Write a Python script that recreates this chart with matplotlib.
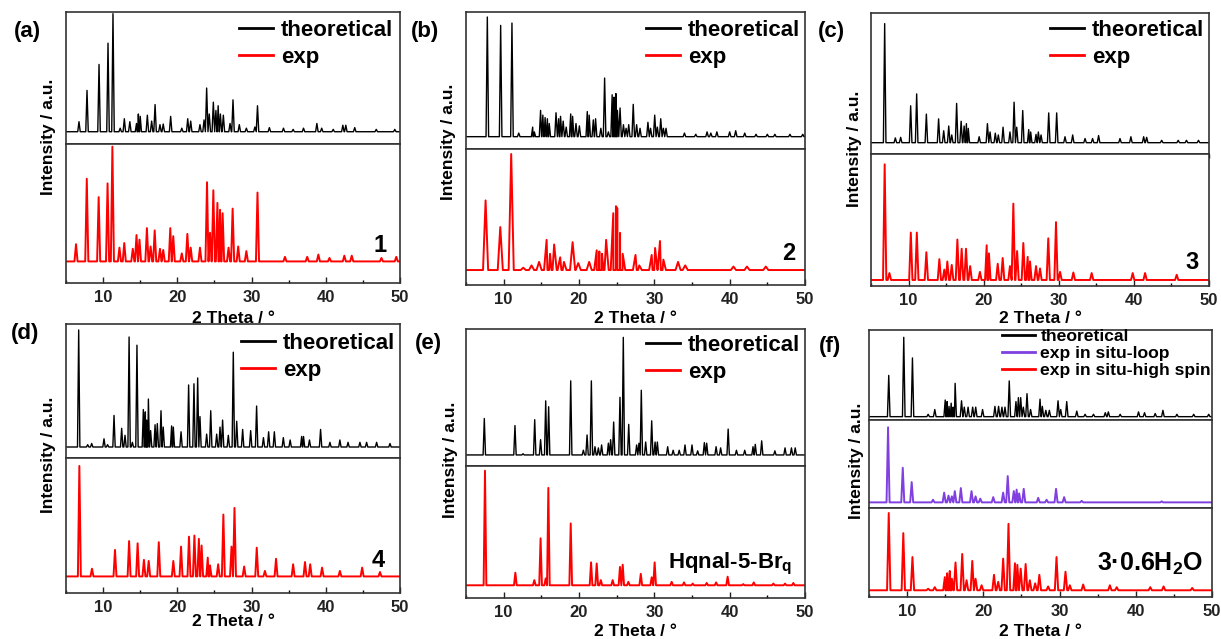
import numpy as np
import matplotlib
matplotlib.use('agg')
import matplotlib.pyplot as plt
from matplotlib.lines import Line2D
from matplotlib.ticker import MultipleLocator

plt.rcParams['font.family'] = ['Liberation Sans', 'DejaVu Sans']
plt.rcParams['font.weight'] = 'bold'
plt.rcParams['mathtext.fontset'] = 'custom'
plt.rcParams['mathtext.rm'] = 'Liberation Sans:bold'
plt.rcParams['mathtext.it'] = 'Liberation Sans:bold'
plt.rcParams['mathtext.bf'] = 'Liberation Sans:bold'

# peak positions (2 theta) and relative heights
a_theo_pos = [6.75, 7.83, 9.45, 10.66, 11.33, 12.3, 12.86, 13.6, 14.5, 14.75, 15.0, 15.96, 16.54, 17.0, 17.66,
              18.1, 19.1, 20.6, 21.4, 21.8, 23.05, 23.6, 23.95, 24.3, 24.85, 25.2, 25.5, 25.8, 26.2, 27.1,
              27.5, 28.35, 29.3, 30.45, 30.8, 32.4, 34.3, 35.6, 37.0, 38.8, 39.45, 41.0, 42.3, 42.7, 43.9,
              46.8, 49.3]
a_theo_int = [0.085, 0.35, 0.57, 0.75, 1.0, 0.03, 0.11, 0.085, 0.07, 0.15, 0.13, 0.14, 0.09, 0.23, 0.06,
              0.065, 0.13, 0.03, 0.11, 0.09, 0.06, 0.1, 0.37, 0.15, 0.25, 0.18, 0.22, 0.15, 0.14, 0.07,
              0.27, 0.06, 0.03, 0.04, 0.22, 0.035, 0.03, 0.02, 0.03, 0.07, 0.03, 0.02, 0.055, 0.055, 0.035,
              0.02, 0.02]
a_exp_pos = [6.35, 7.8, 9.4, 10.6, 11.25, 12.2, 12.85, 14.0, 14.5, 14.9, 15.9, 16.4, 16.95, 17.66, 18.1,
             19.05, 19.45, 20.6, 21.35, 21.8, 23.05, 24.0, 24.4, 24.85, 25.4, 25.75, 26.1, 26.9, 27.45,
             28.2, 29.3, 30.8, 34.5, 37.5, 39.0, 40.5, 42.5, 43.5, 47.5, 49.5]
a_exp_int = [0.15, 0.72, 0.56, 0.68, 1.0, 0.12, 0.16, 0.11, 0.23, 0.19, 0.29, 0.13, 0.27, 0.11, 0.1,
             0.29, 0.22, 0.07, 0.24, 0.12, 0.12, 0.69, 0.25, 0.62, 0.51, 0.45, 0.42, 0.12, 0.46,
             0.13, 0.09, 0.6, 0.04, 0.04, 0.06, 0.03, 0.05, 0.05, 0.03, 0.04]

b_theo_pos = [7.83, 9.6, 11.1, 12.0, 13.85, 14.07, 14.9, 15.2, 15.5, 15.8, 16.05, 16.95, 17.3, 17.55, 17.9,
              18.3, 18.9, 19.15, 19.6, 20.05, 21.1, 21.35, 21.9, 22.2, 22.9, 23.4, 23.9, 24.4, 24.65, 24.9,
              25.1, 25.45, 25.9, 26.25, 26.6, 27.2, 27.65, 28.1, 29.15, 29.5, 30.05, 30.4, 30.85, 31.2,
              31.55, 34.0, 35.5, 37.0, 37.5, 38.3, 40.0, 40.8, 42.0, 43.5, 45.0, 46.0, 48.0, 49.7]
b_theo_int = [1.0, 0.93, 0.95, 0.03, 0.08, 0.04, 0.22, 0.18, 0.16, 0.15, 0.11, 0.2, 0.15, 0.17, 0.13,
              0.08, 0.19, 0.17, 0.11, 0.09, 0.21, 0.18, 0.14, 0.15, 0.07, 0.49, 0.04, 0.35, 0.33, 0.36,
              0.22, 0.24, 0.1, 0.07, 0.1, 0.27, 0.1, 0.07, 0.12, 0.07, 0.18, 0.08, 0.15, 0.07,
              0.07, 0.03, 0.02, 0.04, 0.03, 0.04, 0.04, 0.05, 0.03, 0.02, 0.02, 0.02, 0.02, 0.02]
b_exp_pos = [7.6, 9.55, 11.0, 12.6, 13.7, 14.7, 15.7, 16.15, 16.7, 17.5, 18.0, 19.15, 19.9, 21.35, 22.35,
             22.7, 23.05, 23.6, 24.55, 24.9, 25.1, 25.45, 25.8, 27.5, 28.0, 29.65, 30.1, 30.75, 31.2,
             33.15, 34.1, 40.5, 42.3, 44.8]
b_exp_int = [0.6, 0.37, 1.0, 0.02, 0.04, 0.07, 0.26, 0.14, 0.22, 0.11, 0.07, 0.24, 0.06, 0.07, 0.17,
             0.16, 0.14, 0.26, 0.49, 0.55, 0.53, 0.32, 0.14, 0.13, 0.04, 0.13, 0.19, 0.25, 0.09,
             0.07, 0.04, 0.03, 0.03, 0.03]

c_theo_pos = [6.82, 8.24, 8.95, 10.28, 11.08, 12.37, 14.0, 14.68, 15.35, 15.75, 16.4, 17.0, 17.4, 17.7,
              17.95, 19.4, 20.5, 20.85, 21.55, 21.95, 22.58, 23.5, 24.05, 24.4, 25.2, 26.0, 26.26, 26.97,
              27.28, 27.64, 28.66, 29.72, 30.83, 31.85, 33.5, 34.5, 35.3, 38.15, 39.6, 41.3, 41.7, 43.7,
              45.9, 47.0, 48.6]
c_theo_int = [1.0, 0.04, 0.045, 0.31, 0.41, 0.24, 0.2, 0.1, 0.14, 0.065, 0.33, 0.18, 0.14, 0.16,
              0.12, 0.05, 0.16, 0.09, 0.08, 0.065, 0.13, 0.09, 0.34, 0.13, 0.27, 0.11, 0.09, 0.07,
              0.09, 0.065, 0.25, 0.25, 0.05, 0.065, 0.035, 0.035, 0.06, 0.035, 0.05, 0.05, 0.045, 0.02,
              0.02, 0.02, 0.02]
c_exp_pos = [6.82, 7.45, 10.3, 11.1, 12.37, 14.1, 14.76, 15.16, 15.75, 16.5, 17.07, 17.65, 18.2, 19.5,
             20.4, 20.7, 21.87, 22.53, 23.5, 23.95, 24.45, 25.28, 25.86, 26.17, 26.97, 27.5, 28.6, 29.63,
             30.17, 31.94, 34.38, 39.84, 41.49, 45.7]
c_exp_int = [1.0, 0.06, 0.41, 0.41, 0.24, 0.18, 0.09, 0.16, 0.13, 0.35, 0.27, 0.27, 0.12, 0.07,
             0.3, 0.23, 0.14, 0.19, 0.12, 0.66, 0.25, 0.32, 0.2, 0.16, 0.12, 0.1, 0.36, 0.5,
             0.07, 0.065, 0.06, 0.06, 0.06, 0.045]

d_theo_pos = [6.71, 7.92, 8.46, 10.12, 10.6, 11.47, 12.5, 12.95, 13.5, 13.94, 14.56, 15.42, 15.69, 15.87,
              16.1, 16.4, 17.0, 17.3, 17.8, 18.1, 19.23, 19.46, 20.5, 21.52, 22.24, 22.74, 23.05, 23.95,
              24.5, 25.3, 25.75, 26.1, 26.87, 27.54, 28.0, 28.8, 29.88, 30.68, 31.6, 32.3, 33.07, 34.28,
              35.2, 36.75, 37.0, 37.8, 39.3, 40.56, 41.9, 43.0, 44.6, 45.5, 46.85, 48.65]
d_theo_int = [1.0, 0.02, 0.03, 0.07, 0.02, 0.27, 0.16, 0.1, 0.94, 0.04, 0.87, 0.32, 0.3, 0.23,
              0.41, 0.14, 0.19, 0.2, 0.31, 0.17, 0.18, 0.17, 0.13, 0.53, 0.54, 0.59, 0.26, 0.11,
              0.31, 0.11, 0.17, 0.23, 0.1, 0.81, 0.22, 0.15, 0.14, 0.35, 0.08, 0.13, 0.13, 0.08,
              0.06, 0.09, 0.09, 0.06, 0.15, 0.04, 0.06, 0.04, 0.04, 0.04, 0.04, 0.03]
d_exp_pos = [6.8, 8.5, 11.6, 13.5, 14.65, 15.5, 16.14, 17.5, 19.46, 20.5, 21.57, 22.3, 22.9, 23.27, 24.1,
             24.4, 25.5, 26.2, 27.3, 27.7, 29.0, 30.7, 31.8, 33.3, 35.6, 37.2, 37.9, 39.5, 41.9, 44.9, 47.3]
d_exp_int = [1.0, 0.07, 0.24, 0.32, 0.3, 0.15, 0.14, 0.31, 0.14, 0.27, 0.36, 0.37, 0.34, 0.28, 0.17,
             0.1, 0.11, 0.56, 0.27, 0.62, 0.09, 0.26, 0.05, 0.16, 0.11, 0.13, 0.11, 0.08, 0.05, 0.08, 0.04]

e_theo_pos = [7.43, 11.5, 12.57, 14.12, 14.9, 15.58, 15.97, 18.9, 20.58, 21.07, 21.64, 22.12, 22.57, 23.0,
              23.9, 24.2, 24.6, 25.44, 25.88, 26.6, 27.65, 27.96, 28.27, 28.85, 29.65, 30.1, 30.4, 31.77,
              32.5, 33.3, 34.07, 35.0, 35.75, 36.64, 36.95, 38.2, 38.8, 39.8, 40.9, 42.0, 43.1, 43.4,
              44.25, 46.0, 47.35, 48.2, 48.7]
e_theo_int = [0.31, 0.25, 0.01, 0.3, 0.13, 0.46, 0.41, 0.63, 0.04, 0.17, 0.63, 0.07, 0.06, 0.085,
              0.1, 0.13, 0.28, 0.49, 1.0, 0.26, 0.085, 0.1, 0.55, 0.11, 0.29, 0.11, 0.11, 0.07,
              0.04, 0.04, 0.085, 0.085, 0.035, 0.105, 0.1, 0.07, 0.06, 0.22, 0.04, 0.04, 0.07, 0.09,
              0.12, 0.035, 0.06, 0.06, 0.06]
e_exp_pos = [7.52, 11.55, 14.07, 14.9, 15.58, 15.93, 18.9, 21.6, 22.35, 22.9, 24.47, 25.44, 25.8, 26.55,
             28.2, 29.65, 30.04, 32.3, 33.94, 35.1, 36.95, 38.2, 39.73, 41.8, 43.2, 45.8, 47.35, 48.45]
e_exp_int = [1.0, 0.11, 0.045, 0.41, 0.06, 0.85, 0.54, 0.2, 0.19, 0.045, 0.045, 0.16, 0.18, 0.03,
             0.1, 0.07, 0.2, 0.03, 0.025, 0.015, 0.02, 0.025, 0.075, 0.01, 0.025, 0.015, 0.015, 0.02]

f_theo_pos = [7.59, 9.56, 10.7, 12.76, 13.63, 15.0, 15.25, 15.5, 15.78, 16.04, 16.3, 17.14, 17.5, 18.0,
              18.6, 19.0, 19.9, 21.52, 22.0, 22.44, 22.84, 23.4, 24.28, 24.6, 24.9, 25.25, 25.73, 26.2,
              27.44, 27.74, 28.2, 28.66, 29.8, 30.15, 30.94, 32.26, 33.35, 34.45, 36.0, 36.4, 37.95,
              40.36, 41.15, 42.55, 43.56, 45.4, 47.6, 49.57]
f_theo_int = [0.52, 1.0, 0.74, 0.03, 0.09, 0.21, 0.19, 0.13, 0.17, 0.12, 0.42, 0.2, 0.12, 0.12,
              0.12, 0.12, 0.09, 0.13, 0.13, 0.12, 0.12, 0.45, 0.19, 0.24, 0.24, 0.12, 0.29, 0.09,
              0.22, 0.13, 0.08, 0.08, 0.2, 0.09, 0.19, 0.07, 0.03, 0.03, 0.05, 0.06, 0.03,
              0.06, 0.05, 0.04, 0.08, 0.03, 0.03, 0.03]
f_loop_pos = [7.5, 9.43, 10.6, 13.4, 14.86, 15.43, 15.87, 16.26, 17.05, 18.45, 18.98, 19.6, 21.3, 22.6,
              23.2, 24.0, 24.37, 24.7, 25.3, 27.2, 28.3, 29.54, 30.6, 32.9, 43.4]
f_loop_int = [1.0, 0.46, 0.27, 0.035, 0.13, 0.09, 0.08, 0.15, 0.19, 0.15, 0.08, 0.05, 0.07, 0.13,
              0.35, 0.15, 0.17, 0.12, 0.18, 0.06, 0.035, 0.18, 0.07, 0.02, 0.013]
f_hs_pos = [7.59, 9.5, 10.7, 12.76, 13.63, 14.95, 15.25, 15.6, 15.87, 16.35, 17.23, 17.8, 18.55, 18.98,
            19.77, 21.4, 21.95, 22.6, 23.3, 24.15, 24.46, 24.9, 25.55, 26.1, 26.8, 27.35, 28.5, 29.6,
            30.78, 31.35, 33.1, 36.6, 37.5, 41.9, 43.65, 47.4]
f_hs_int = [1.0, 0.74, 0.43, 0.02, 0.04, 0.17, 0.22, 0.25, 0.15, 0.36, 0.47, 0.13, 0.38, 0.15,
            0.065, 0.2, 0.11, 0.41, 0.86, 0.35, 0.33, 0.28, 0.34, 0.13, 0.09, 0.2, 0.05, 0.43,
            0.24, 0.065, 0.075, 0.065, 0.04, 0.04, 0.05, 0.03]

W, H = 1221, 639
fig = plt.figure(figsize=(W / 100, H / 100), dpi=100)


def fx(px):
    return px / W


def fy(py):
    return 1 - py / H


def profile(pos, inten, w):
    # each reflection drawn as a narrow stick peak on a flat baseline
    xs = [5.0, 50.0]
    ys = [0.0, 0.0]
    for p, h in zip(pos, inten):
        xs += [p - w, p, p + w]
        ys += [0.0, h, 0.0]
    order = np.argsort(xs, kind='stable')
    return np.array(xs)[order], np.array(ys)[order]


BLACK, RED, PURPLE = 'black', '#ff0000', '#8040e0'

panels = [
    dict(tag='(a)', tagxy=(27, 32), x=(66, 400), ys=[12, 144, 283],
         traces=[(a_theo_pos, a_theo_int, 0.17, BLACK, (-0.104, 1.014)),
                 (a_exp_pos, a_exp_int, 0.21, RED, (-0.188, 1.023))],
         names=['theoretical', 'exp'], leg=(239, 19.6), ylab=(48, 137), xlab=318,
         num='1', numxy=(387, 252)),
    dict(tag='(b)', tagxy=(425, 32), x=(466, 805), ys=[12, 149, 285],
         traces=[(b_theo_pos, b_theo_int, 0.17, BLACK, (-0.103, 1.042)),
                 (b_exp_pos, b_exp_int, 0.34, RED, (-0.129, 1.043))],
         names=['theoretical', 'exp'], leg=(646, 19.6), ylab=(449, 142), xlab=318,
         num='2', numxy=(795, 260)),
    dict(tag='(c)', tagxy=(831, 32), x=(871, 1209), ys=[13, 154, 286],
         traces=[(c_theo_pos, c_theo_int, 0.17, BLACK, (-0.095, 1.089)),
                 (c_exp_pos, c_exp_int, 0.22, RED, (-0.052, 1.089))],
         names=['theoretical', 'exp'], leg=(1050, 19.6), ylab=(855, 149), xlab=318,
         num='3', numxy=(1199, 269), divticks=True),
    dict(tag='(d)', tagxy=(25, 334), x=(66, 400), ys=[324, 458, 593],
         traces=[(d_theo_pos, d_theo_int, 0.16, BLACK, (-0.094, 1.051)),
                 (d_exp_pos, d_exp_int, 0.2, RED, (-0.15, 1.072))],
         names=['theoretical', 'exp'], leg=(241, 332.6), ylab=(48, 455), xlab=621,
         num='4', numxy=(385, 567)),
    dict(tag='(e)', tagxy=(428, 343), x=(466, 805), ys=[329, 466, 598],
         traces=[(e_theo_pos, e_theo_int, 0.16, BLACK, (-0.094, 1.071)),
                 (e_exp_pos, e_exp_int, 0.18, RED, (-0.111, 1.041))],
         names=['theoretical', 'exp'], leg=(646, 334.6), ylab=(450, 460), xlab=631,
         num='Hqnal-5-Br$_{q}$', numxy=(668, 568), numha='left', numsize=16),
    dict(tag='(f)', tagxy=(830, 347), x=(869, 1212), ys=[330, 420, 508, 597],
         traces=[(f_theo_pos, f_theo_int, 0.17, BLACK, (-0.042, 1.092)),
                 (f_loop_pos, f_loop_int, 0.2, PURPLE, (-0.075, 1.097)),
                 (f_hs_pos, f_hs_int, 0.22, RED, (-0.087, 1.065))],
         names=['theoretical', 'exp in situ-loop', 'exp in situ-high spin'],
         leg=(1002, 328.5), legsize=12.6, ylab=(857, 461), xlab=632,
         num='3·0.6H$_{2}$O', numxy=(1203, 571), numsize=18),
]

for pn in panels:
    x0, x1 = pn['x']
    n = len(pn['traces'])
    axes = []
    for i, (pos, inten, w, col, ylim) in enumerate(pn['traces']):
        top, bot = pn['ys'][i], pn['ys'][i + 1]
        ax = fig.add_axes([fx(x0), fy(bot), fx(x1) - fx(x0), (bot - top) / H])
        xs, ys = profile(pos, inten, w)
        ax.plot(xs, ys, color=col, lw=1.0 if col == BLACK else 1.4)
        ax.set_xlim(5, 50)
        ax.set_ylim(*ylim)
        ax.set_yticks([])
        ax.xaxis.set_major_locator(MultipleLocator(10))
        ax.xaxis.set_minor_locator(MultipleLocator(5))
        for s in ax.spines.values():
            s.set_linewidth(1.2)
            s.set_color('#333333')
        last = i == n - 1
        if last:
            ax.tick_params(axis='x', which='major', direction='in', length=4, width=1,
                           labelsize=12, pad=5, colors='#222222')
            ax.tick_params(axis='x', which='minor', direction='in', length=2, width=1)
            for lab in ax.get_xticklabels():
                lab.set_fontweight('bold')
        elif pn.get('divticks'):
            ax.tick_params(axis='x', which='both', direction='out', length=3, width=1,
                           labelbottom=False)
        else:
            ax.tick_params(axis='x', which='both', bottom=False, labelbottom=False)
        axes.append(ax)

    cols = [t[3] for t in pn['traces']]
    handles = [Line2D([], [], color=c, lw=2) for c in cols]
    lsize = pn.get('legsize', 16)
    if lsize > 14:
        hl, tp, ls = 1.53, 0.36, 0.28
    else:
        hl, tp, ls = 1.9, 0.3, 0.12
    axes[0].legend(handles, pn['names'], loc='upper left',
                   bbox_to_anchor=(fx(pn['leg'][0]), fy(pn['leg'][1])),
                   bbox_transform=fig.transFigure, frameon=False,
                   borderpad=0, borderaxespad=0, handlelength=hl, handletextpad=tp,
                   labelspacing=ls, prop={'weight': 'bold', 'size': lsize})

    fig.text(fx(pn['tagxy'][0]), fy(pn['tagxy'][1]), pn['tag'], fontsize=16,
             fontweight='bold', ha='center', va='center')
    fig.text(fx(pn['ylab'][0]), fy(pn['ylab'][1]), 'Intensity / a.u.', fontsize=12.5,
             fontweight='bold', rotation=90, ha='center', va='center')
    fig.text(fx((x0 + x1) / 2), fy(pn['xlab']), '2 Theta / °', fontsize=12.5,
             fontweight='bold', ha='center', va='center')
    fig.text(fx(pn['numxy'][0]), fy(pn['numxy'][1]), pn['num'], fontsize=pn.get('numsize', 17),
             fontweight='bold', ha=pn.get('numha', 'right'), va='baseline')

fig.savefig('out.png', dpi=100)
